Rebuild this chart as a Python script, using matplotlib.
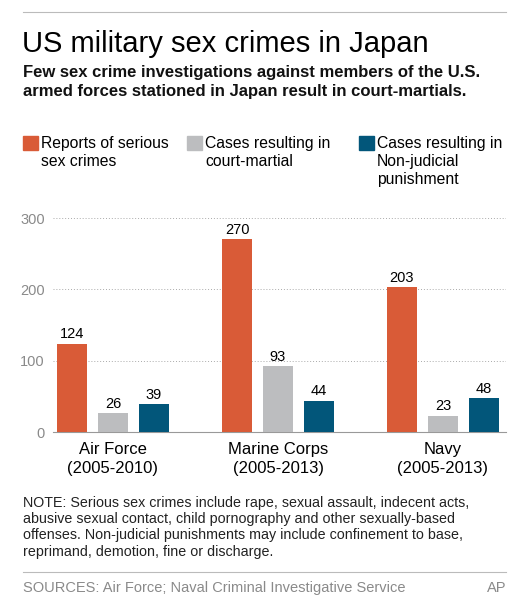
import matplotlib.pyplot as plt
import numpy as np

# --- Data ---
branches = ['Air Force\n(2005-2010)', 'Marine Corps\n(2005-2013)', 'Navy\n(2005-2013)']
reports = [124, 270, 203]
court_martial = [26, 93, 23]
non_judicial = [39, 44, 48]
yticks = [0, 100, 200, 300]
series_names = ['Reports of serious\nsex crimes', 'Cases resulting in\ncourt-martial',
                'Cases resulting in\nNon-judicial\npunishment']

ORANGE = '#d95b37'
GRAY = '#bcbdbf'
BLUE = '#02567a'
TXT_GRAY = '#8a8a8a'

W, H = 524, 606
plt.rcParams['font.family'] = ['Liberation Sans', 'DejaVu Sans']

fig = plt.figure(figsize=(W / 100, H / 100), dpi=100)

def fx(px):
    return px / W

def fy(py):
    return 1 - py / H

# --- Axes ---
ax = fig.add_axes([fx(53), fy(432), fx(506) - fx(53), fy(218) - fy(432)])
x = np.arange(len(branches))
step = 41 / 165
width = 30 / 165
colors = [ORANGE, GRAY, BLUE]
for i, (vals, c) in enumerate(zip([reports, court_martial, non_judicial], colors)):
    pos = x + (i - 1) * step
    ax.bar(pos, vals, width=width, color=c, zorder=3)
    for p, v in zip(pos, vals):
        ax.text(p, v + 3, str(v), ha='center', va='bottom', fontsize=10.5, color='black')

ax.set_xlim((53 - 113) / 165, (506 - 113) / 165)
ax.set_ylim(0, 300)
ax.set_yticks(yticks)
ax.set_yticklabels([str(t) for t in yticks], color=TXT_GRAY, fontsize=10.5)
ax.tick_params(axis='y', length=0, pad=6)
ax.set_xticks(x)
ax.set_xticklabels(branches, fontsize=12, linespacing=1.35)
ax.tick_params(axis='x', length=0, pad=7)
for s in ['top', 'right', 'left']:
    ax.spines[s].set_visible(False)
ax.spines['bottom'].set_color('#999999')
ax.spines['bottom'].set_linewidth(0.8)
ax.grid(axis='y', linestyle=(0, (1, 2)), color='#aaaaaa', linewidth=0.7, zorder=0)
ax.set_axisbelow(True)

# --- Header ---
fig.add_artist(plt.Line2D([fx(23), fx(506)], [fy(12), fy(12)], color='#bbbbbb', lw=0.8))
fig.text(fx(22), fy(52), 'US military sex crimes in Japan', fontsize=21, va='baseline')
fig.text(fx(23), fy(77), 'Few sex crime investigations against members of the U.S.',
         fontsize=12, fontweight='bold', va='baseline', color='#111111')
fig.text(fx(23), fy(96), 'armed forces stationed in Japan result in court-martials.',
         fontsize=12, fontweight='bold', va='baseline', color='#111111')

# --- Legend ---
leg_x = [23, 187, 359]
for lx, c, name in zip(leg_x, colors, series_names):
    fig.add_artist(plt.Rectangle((fx(lx), fy(150)), fx(15), fy(136) - fy(150), color=c))
    fig.text(fx(lx + 18), fy(136), name, fontsize=11.3, va='top', linespacing=1.25)

# --- Footer ---
note = ('NOTE: Serious sex crimes include rape, sexual assault, indecent acts,\n'
        'abusive sexual contact, child pornography and other sexually-based\n'
        'offenses. Non-judicial punishments may include confinement to base,\n'
        'reprimand, demotion, fine or discharge.')
fig.text(fx(23), fy(496), note, fontsize=10.3, va='top', linespacing=1.2, color='#222222')
fig.add_artist(plt.Line2D([fx(23), fx(506)], [fy(572), fy(572)], color='#bbbbbb', lw=0.8))
fig.text(fx(23), fy(592), 'SOURCES: Air Force; Naval Criminal Investigative Service',
         fontsize=10.5, color=TXT_GRAY, va='baseline')
fig.text(fx(506), fy(592), 'AP', fontsize=10.5, color=TXT_GRAY, va='baseline', ha='right')

fig.savefig('out.png', dpi=100)
